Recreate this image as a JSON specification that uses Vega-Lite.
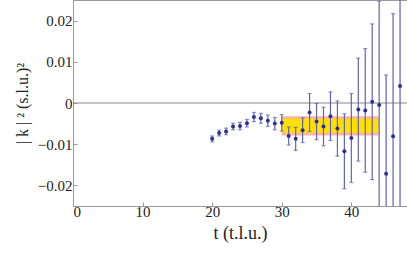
{
  "$schema": "https://vega.github.io/schema/vega-lite/v6.json",
  "width": 334,
  "height": 206,
  "autosize": {"type": "none"},
  "padding": {"left": 73, "top": 0, "right": 0, "bottom": 48},
  "config": {
    "view": {"stroke": "#999999", "strokeWidth": 1},
    "font": "Liberation Serif",
    "style": {"guide-label": {"font": "Liberation Serif", "fontSize": 15, "fill": "#222222"}, "guide-title": {"font": "Liberation Serif", "fill": "#222222", "fontWeight": "normal"}},
    "axis": {"grid": false, "domainColor": "#999999", "tickColor": "#999999", "labelFont": "Liberation Serif", "titleFont": "Liberation Serif", "labelColor": "#222222", "titleColor": "#222222", "labelFontSize": 15, "titleFontSize": 14, "titleFontWeight": "normal", "tickSize": -4}
  },
  "datasets": {
    "pts": [
      {"t": 20, "k": -0.0087, "e": 0.0007},
      {"t": 21, "k": -0.0073, "e": 0.0007},
      {"t": 22, "k": -0.0069, "e": 0.0008},
      {"t": 23, "k": -0.0057, "e": 0.0008},
      {"t": 24, "k": -0.0056, "e": 0.0009},
      {"t": 25, "k": -0.0049, "e": 0.0009},
      {"t": 26, "k": -0.0034, "e": 0.0011},
      {"t": 27, "k": -0.0037, "e": 0.0012},
      {"t": 28, "k": -0.0043, "e": 0.0014},
      {"t": 29, "k": -0.0050, "e": 0.0015},
      {"t": 30, "k": -0.0048, "e": 0.0020},
      {"t": 31, "k": -0.0080, "e": 0.0022},
      {"t": 32, "k": -0.0087, "e": 0.0028},
      {"t": 33, "k": -0.0066, "e": 0.0030},
      {"t": 34, "k": -0.0023, "e": 0.0046},
      {"t": 35, "k": -0.0045, "e": 0.0044},
      {"t": 36, "k": -0.0057, "e": 0.0047},
      {"t": 37, "k": -0.0032, "e": 0.0059},
      {"t": 38, "k": -0.0062, "e": 0.0067},
      {"t": 39, "k": -0.0117, "e": 0.0091},
      {"t": 40, "k": -0.0085, "e": 0.0108},
      {"t": 41, "k": -0.0016, "e": 0.0125},
      {"t": 42, "k": -0.0018, "e": 0.0150},
      {"t": 43, "k": 0.0003, "e": 0.0189},
      {"t": 44, "k": -0.0005, "e": 0.0252},
      {"t": 45, "k": -0.0172, "e": 0.0240},
      {"t": 46, "k": -0.0081, "e": 0.0298},
      {"t": 47, "k": 0.0041, "e": 0.0350}
    ],
    "band": [
      {"t0": 30, "t1": 43.9, "lo": -0.0079, "hi": -0.0032, "c": "pink"},
      {"t0": 30, "t1": 43.9, "lo": -0.0072, "hi": -0.0038, "c": "yellow"}
    ],
    "zero": [{"y": 0}]
  },
  "layer": [
    {
      "data": {"name": "band"},
      "mark": {"type": "rect"},
      "encoding": {
        "x": {"field": "t0", "type": "quantitative", "scale": {"domain": [0, 48], "nice": false, "zero": false}, "axis": {"values": [0, 10, 20, 30, 40], "title": "t (t.l.u.)", "titleFontSize": 18, "labelFont": "Liberation Serif", "labelFontSize": 15, "labelPadding": 2, "titlePadding": 5}},
        "x2": {"field": "t1"},
        "y": {"field": "lo", "type": "quantitative", "scale": {"domain": [-0.025, 0.025], "nice": false}, "axis": {"values": [-0.02, -0.01, 0, 0.01, 0.02], "format": "~g", "title": "| k | ² (s.l.u.)²", "titleFontSize": 16, "labelFont": "Liberation Serif", "labelFontSize": 15, "labelPadding": 5, "titlePadding": 7}},
        "y2": {"field": "hi"},
        "color": {"field": "c", "type": "nominal", "scale": {"domain": ["pink", "yellow"], "range": ["#fbb4a4", "#ffe000"]}, "legend": null}
      }
    },
    {
      "data": {"name": "zero"},
      "mark": {"type": "rule", "color": "#888888", "strokeWidth": 1},
      "encoding": {"y": {"field": "y", "type": "quantitative"}}
    },
    {
      "data": {"name": "pts"},
      "transform": [
        {"calculate": "datum.k - datum.e", "as": "lo"},
        {"calculate": "datum.k + datum.e", "as": "hi"}
      ],
      "layer": [
        {
          "mark": {"type": "rule", "color": "#6262b4", "strokeWidth": 1.2, "clip": true},
          "encoding": {
            "x": {"field": "t", "type": "quantitative"},
            "y": {"field": "lo", "type": "quantitative"},
            "y2": {"field": "hi"}
          }
        },
        {
          "mark": {"type": "tick", "orient": "horizontal", "color": "#6262b4", "size": 4, "thickness": 1.2, "clip": true},
          "encoding": {
            "x": {"field": "t", "type": "quantitative"},
            "y": {"field": "lo", "type": "quantitative"}
          }
        },
        {
          "mark": {"type": "tick", "orient": "horizontal", "color": "#6262b4", "size": 4, "thickness": 1.2, "clip": true},
          "encoding": {
            "x": {"field": "t", "type": "quantitative"},
            "y": {"field": "hi", "type": "quantitative"}
          }
        },
        {
          "mark": {"type": "point", "filled": true, "color": "#2e2e96", "size": 16, "opacity": 1},
          "encoding": {
            "x": {"field": "t", "type": "quantitative"},
            "y": {"field": "k", "type": "quantitative"}
          }
        }
      ]
    }
  ]
}
